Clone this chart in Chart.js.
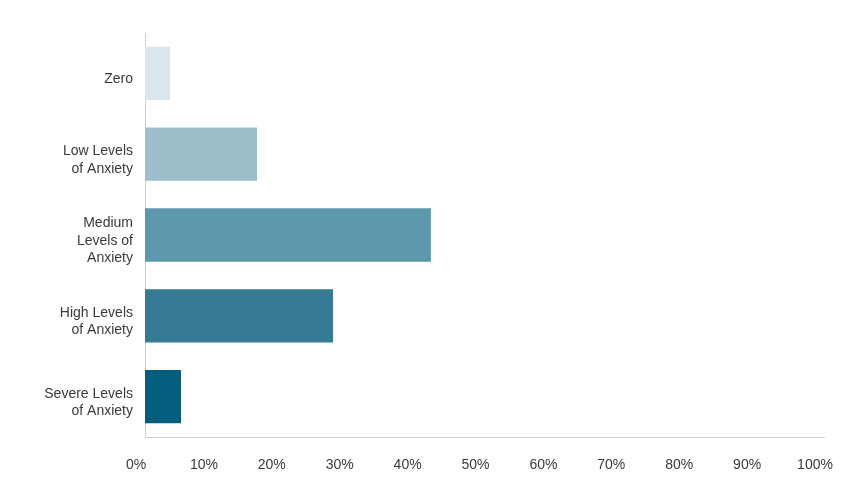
<!DOCTYPE html>
<html>
<head>
<meta charset="utf-8">
<script src="https://cdn.jsdelivr.net/npm/chart.js@4/dist/chart.umd.min.js"></script>
<style>
  html, body { margin: 0; padding: 0; background: #fff; }
  #wrap { width: 850px; height: 497px; position: relative; }
</style>
</head>
<body>
<div id="wrap"><canvas id="anxiety-chart"></canvas></div>
<script>
// categories (multi-line labels) and share of respondents in %
const categories = [
    ['Zero'],
    ['Low Levels', 'of Anxiety'],
    ['Medium', 'Levels of', 'Anxiety'],
    ['High Levels', 'of Anxiety'],
    ['Severe Levels', 'of Anxiety']
];
const shares = [3.7, 16.5, 42.1, 27.7, 5.3];
const barColors = ['#dae6ed', '#9bbfcb', '#5b98ab', '#357b95', '#035d7c'];
const xTicks = [0, 10, 20, 30, 40, 50, 60, 70, 80, 90, 100];

Chart.defaults.font.family = '"Liberation Sans", Arial, sans-serif';
Chart.defaults.font.size = 14;
Chart.defaults.color = '#3a3a3a';

const ctx = document.getElementById('anxiety-chart');
new Chart(ctx, {
    type: 'bar',
    data: {
        labels: categories,
        datasets: [{
            data: shares,
            backgroundColor: barColors,
            borderWidth: 0,
            barPercentage: 0.66,
            categoryPercentage: 1
        }]
    },
    options: {
        indexAxis: 'y',
        responsive: true,
        maintainAspectRatio: false,
        animation: false,
        layout: { padding: { top: 33, right: 26, left: 0, bottom: 0 } },
        plugins: { legend: { display: false }, tooltip: { enabled: false } },
        scales: {
            x: {
                min: 0,
                max: 100,
                afterBuildTicks: (scale) => { scale.ticks = xTicks.map(v => ({ value: v })); },
                afterFit: (scale) => {
                    scale.height = 60;
                    // plot edge is fixed by layout padding, not by the 100% label overhang
                    scale.paddingLeft = 0;
                    scale.paddingRight = 0;
                },
                grid: { display: false },
                border: { display: true, color: '#cfcfcf', width: 1 },
                ticks: { padding: 12, labelOffset: -9, callback: (v) => v + '%', maxRotation: 0, autoSkip: false }
            },
            y: {
                afterFit: (scale) => { scale.width = 145; },
                grid: { display: false },
                border: { display: true, color: '#cfcfcf', width: 1 },
                ticks: { padding: 4, labelOffset: 6, autoSkip: false, font: { lineHeight: 1.25 } }
            }
        }
    }
});
</script>
</body>
</html>
